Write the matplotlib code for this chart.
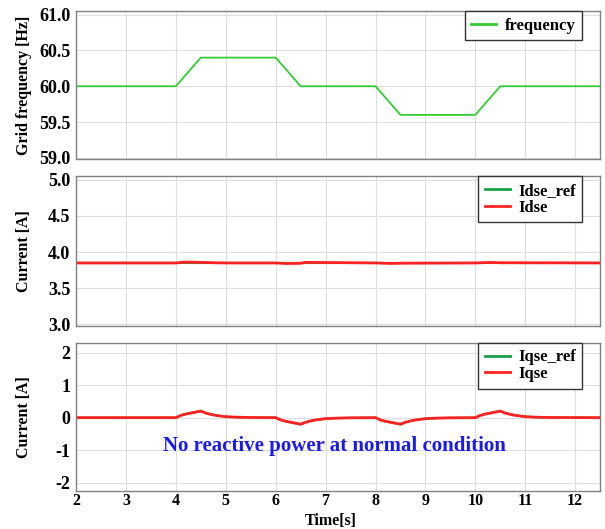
import numpy as np
import matplotlib.pyplot as plt

# frequency (Hz)
t_freq = [2, 4, 4.5, 6, 6.5, 8, 8.5, 10, 10.5, 12.5]
freq = [60.0, 60.0, 60.4, 60.4, 60.0, 60.0, 59.6, 59.6, 60.0, 60.0]

# d-axis current (A)
t_d = [2, 4, 4.2, 4.5, 4.8, 5.0, 6, 6.2, 6.5, 6.6, 7.0, 8, 8.3, 8.5, 10, 10.3, 10.5, 12.5]
idse_ref = [3.85] * len(t_d)
idse = [3.85, 3.85, 3.862, 3.858, 3.852, 3.85, 3.85, 3.842, 3.845, 3.858, 3.856, 3.85, 3.843, 3.846, 3.85, 3.857, 3.853, 3.85]

# q-axis current (A)
t_q = [2, 4, 4.1, 4.2, 4.3, 4.4, 4.5, 4.6, 4.7, 4.8, 4.9, 5.0, 5.2, 5.5, 6,
       6.1, 6.2, 6.3, 6.4, 6.5, 6.6, 6.7, 6.8, 6.9, 7.0, 7.2, 7.5, 8,
       8.1, 8.2, 8.3, 8.4, 8.5, 8.6, 8.7, 8.8, 8.9, 9.0, 9.2, 9.5, 10,
       10.1, 10.2, 10.3, 10.4, 10.5, 10.6, 10.7, 10.8, 10.9, 11.0, 11.2, 11.5, 12.5]
iqse = [0, 0, 0.07, 0.11, 0.14, 0.17, 0.2, 0.14, 0.1, 0.07, 0.05, 0.03, 0.015, 0.005, 0,
        -0.07, -0.11, -0.14, -0.17, -0.2, -0.14, -0.1, -0.07, -0.05, -0.03, -0.015, -0.005, 0,
        -0.07, -0.11, -0.14, -0.17, -0.2, -0.14, -0.1, -0.07, -0.05, -0.03, -0.015, -0.005, 0,
        0.07, 0.11, 0.14, 0.17, 0.2, 0.14, 0.1, 0.07, 0.05, 0.03, 0.015, 0.005, 0]
iqse_ref = [v * 1.05 for v in iqse]

plt.rcParams['font.family'] = ['Liberation Serif', 'DejaVu Serif']
plt.rcParams['font.weight'] = 'bold'
plt.rcParams['axes.unicode_minus'] = False

green = '#33cc33'
lgreen = '#1aa04a'
red = '#ff2222'

fig = plt.figure(figsize=(6.05, 5.29), dpi=100)
ax1 = fig.add_axes([0.1256, 0.699, 0.8664, 0.280])
ax2 = fig.add_axes([0.1256, 0.384, 0.8664, 0.283])
ax3 = fig.add_axes([0.1256, 0.072, 0.8664, 0.280])

ax1.plot(t_freq, freq, color=green, lw=1.3, label='frequency')
ax1.set_ylim(58.98, 61.05)
ax1.set_yticks([59.0, 59.5, 60.0, 60.5, 61.0])
ax1.set_yticklabels(['59.0', '59.5', '60.0', '60.5', '61.0'])
ax1.set_ylabel('Grid frequency [Hz]', fontsize=11.5, fontweight='bold')

ax2.plot(t_d, idse_ref, color=lgreen, lw=1.5, label='Idse_ref')
ax2.plot(t_d, idse, color=red, lw=2.0, label='Idse')
ax2.set_ylim(2.98, 5.05)
ax2.set_yticks([3.0, 3.5, 4.0, 4.5, 5.0])
ax2.set_yticklabels(['3.0', '3.5', '4.0', '4.5', '5.0'])
ax2.set_ylabel('Current [A]', fontsize=11.5, fontweight='bold')

ax3.plot(t_q, iqse_ref, color=lgreen, lw=1.5, label='Iqse_ref')
ax3.plot(t_q, iqse, color=red, lw=2.0, label='Iqse')
ax3.set_ylim(-2.25, 2.3)
ax3.set_yticks([-2, -1, 0, 1, 2])
ax3.set_ylabel('Current [A]', fontsize=11.5, fontweight='bold')
ax3.text(7.18, -0.87, 'No reactive power at normal condition', color='#1a1aee',
         fontsize=15, fontweight='bold', ha='center', va='center')
fig.text(0.546, 0.016, 'Time[s]', fontsize=11.5, fontweight='bold',
         ha='center', va='center')

for ax in (ax1, ax2, ax3):
    ax.set_xlim(2, 12.5)
    ax.set_xticks(range(2, 13))
    ax.grid(True, color='#dedede', lw=0.8)
    ax.set_axisbelow(True)
    ax.tick_params(length=0, pad=1.5)
    ax.tick_params(axis='y', labelsize=13, pad=4)
    ax.tick_params(axis='x', labelsize=11.5)
    for s in ax.spines.values():
        s.set_color('#808080')
        s.set_linewidth(1.0)
    ax.yaxis.set_label_coords(-0.084, 0.5)
    leg = ax.legend(loc='upper right', bbox_to_anchor=(0.966, 1.0), fontsize=12,
                    fancybox=False, framealpha=1, edgecolor='#333333',
                    handlelength=1.5, handletextpad=0.5, borderaxespad=0.0,
                    labelspacing=0.05, borderpad=0.4)
    leg.get_frame().set_linewidth(1.0)
    for line in leg.get_lines():
        line.set_linewidth(2.0)
ax1.tick_params(labelbottom=False)
ax2.tick_params(labelbottom=False)

fig.savefig('out.png', dpi=100)
